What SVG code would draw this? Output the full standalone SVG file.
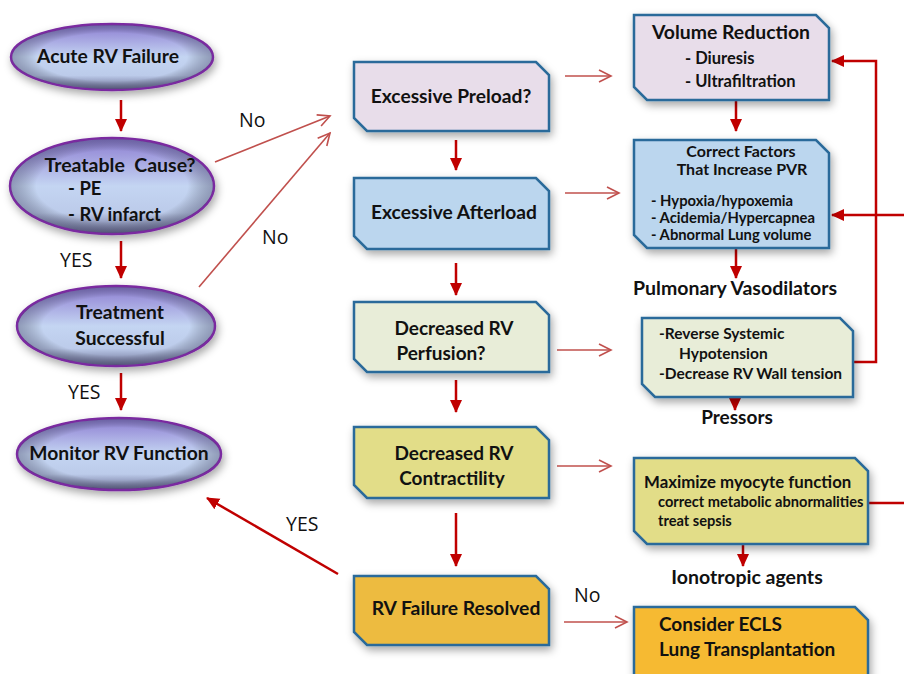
<svg xmlns="http://www.w3.org/2000/svg" width="904" height="674" viewBox="0 0 904 674">
<defs>
<linearGradient id="ellG" x1="0" y1="0" x2="0" y2="1">
<stop offset="0" stop-color="#8A7BD0"/>
<stop offset="0.25" stop-color="#A8A8E2"/>
<stop offset="0.5" stop-color="#C4D5F2"/>
<stop offset="0.78" stop-color="#BCCBEA"/>
<stop offset="1" stop-color="#66688E"/>
</linearGradient>
<radialGradient id="ellEdge" cx="0.5" cy="0.5" r="0.5">
<stop offset="0.75" stop-color="#000" stop-opacity="0"/>
<stop offset="1" stop-color="#303050" stop-opacity="0.35"/>
</radialGradient>
<filter id="sh" x="-20%" y="-20%" width="140%" height="150%">
<feDropShadow dx="2" dy="4" stdDeviation="4" flood-color="#000" flood-opacity="0.35"/>
</filter>
<marker id="thick" markerUnits="userSpaceOnUse" markerWidth="14" markerHeight="14" viewBox="0 0 14 14" refX="12" refY="7" orient="auto">
<path d="M0,1 L13,7 L0,13 Z" fill="#C00000"/>
</marker>
<marker id="thin" markerUnits="userSpaceOnUse" markerWidth="16" markerHeight="16" viewBox="0 0 16 16" refX="14" refY="8" orient="auto">
<path d="M2,2 L14,8 L2,14" fill="none" stroke="#C0504D" stroke-width="1.6"/>
</marker>
</defs>
<style>
.ell{stroke:#7A2AA0;stroke-width:2.5}
.box{stroke:#2A6A9A;stroke-width:2.5}
.t{font-family:Lato,"Open Sans","Liberation Sans",sans-serif;font-weight:bold;fill:#111}
.lab{font-family:"Open Sans","Liberation Sans",sans-serif;font-size:19.5px;fill:#111}
.th{stroke:#C00000;stroke-width:2.5;fill:none}
.tn{stroke:#C0504D;stroke-width:1.6;fill:none}
</style>

<g id="connectors">
<line class="th" x1="121" y1="100" x2="121" y2="131" marker-end="url(#thick)"/>
<line class="th" x1="121" y1="241" x2="121" y2="278" marker-end="url(#thick)"/>
<line class="th" x1="121" y1="373" x2="121" y2="410" marker-end="url(#thick)"/>
<line class="tn" x1="215" y1="162" x2="330" y2="116" marker-end="url(#thin)"/>
<line class="tn" x1="199" y1="287" x2="330" y2="133" marker-end="url(#thin)"/>
<line class="th" x1="456" y1="140" x2="456" y2="170" marker-end="url(#thick)"/>
<line class="th" x1="456" y1="263" x2="456" y2="295" marker-end="url(#thick)"/>
<line class="th" x1="456" y1="380" x2="456" y2="412" marker-end="url(#thick)"/>
<line class="th" x1="456" y1="513" x2="456" y2="566" marker-end="url(#thick)"/>
<line class="th" x1="338" y1="574" x2="207" y2="498" marker-end="url(#thick)"/>
<line class="tn" x1="565" y1="76" x2="611" y2="76" marker-end="url(#thin)"/>
<line class="tn" x1="565" y1="193" x2="619" y2="193" marker-end="url(#thin)"/>
<line class="tn" x1="557" y1="350" x2="611" y2="350" marker-end="url(#thin)"/>
<line class="tn" x1="557" y1="466" x2="611" y2="466" marker-end="url(#thin)"/>
<line class="tn" x1="564" y1="622" x2="627" y2="622" marker-end="url(#thin)"/>
<line class="th" x1="736" y1="101" x2="736" y2="131" marker-end="url(#thick)"/>
<line class="th" x1="736" y1="249" x2="736" y2="278" marker-end="url(#thick)"/>
<line class="th" x1="735" y1="389" x2="735" y2="410" marker-end="url(#thick)"/>
<line class="th" x1="743" y1="537" x2="743" y2="566" marker-end="url(#thick)"/>
<polyline class="th" points="853,362 876,362 876,61 832,61" marker-end="url(#thick)"/>
<polyline class="th" points="868,503 912,503 912,215 832,215" marker-end="url(#thick)"/>
<text class="lab" x="239" y="127">No</text>
<text class="lab" x="262" y="244">No</text>
<text class="lab" x="60" y="267">YES</text>
<text class="lab" x="68" y="399">YES</text>
<text class="lab" x="286" y="531">YES</text>
<text class="lab" x="574" y="602">No</text>
</g>

<g id="n-acute">
<ellipse cx="112" cy="57" rx="101" ry="33" fill="url(#ellG)" class="ell" filter="url(#sh)"/>
<ellipse cx="112" cy="57" rx="100" ry="32" fill="url(#ellEdge)"/>
<text class="t" x="108" y="63" font-size="19.3" text-anchor="middle">Acute RV Failure</text>
</g>
<g id="n-treatable">
<ellipse cx="112" cy="186" rx="102" ry="48" fill="url(#ellG)" class="ell" filter="url(#sh)"/>
<ellipse cx="112" cy="186" rx="101" ry="47" fill="url(#ellEdge)"/>
<text class="t" x="120" y="172" font-size="19.5" text-anchor="middle" style="white-space:pre">Treatable  Cause?</text>
<text class="t" x="68" y="195" font-size="18.5">- PE</text>
<text class="t" x="68" y="221" font-size="18.5">- RV infarct</text>
</g>
<g id="n-treatment">
<ellipse cx="116" cy="326" rx="99" ry="40" fill="url(#ellG)" class="ell" filter="url(#sh)"/>
<ellipse cx="116" cy="326" rx="98" ry="39" fill="url(#ellEdge)"/>
<text class="t" x="120" y="319" font-size="19.3" text-anchor="middle">Treatment</text>
<text class="t" x="120" y="345" font-size="19.3" text-anchor="middle">Successful</text>
</g>
<g id="n-monitor">
<ellipse cx="119" cy="454" rx="102" ry="36" fill="url(#ellG)" class="ell" filter="url(#sh)"/>
<ellipse cx="119" cy="454" rx="101" ry="35" fill="url(#ellEdge)"/>
<text class="t" x="119" y="460" font-size="19.3" text-anchor="middle">Monitor RV Function</text>
</g>

<g id="n-preload">
<path class="box" d="M354,62 H536 L549,75 V131 H367 L354,118 Z" fill="#E8DDEA" filter="url(#sh)"/>
<text class="t" x="451" y="103" font-size="19.2" text-anchor="middle">Excessive Preload?</text>
</g>
<g id="n-afterload">
<path class="box" d="M354,178 H536 L549,191 V249 H367 L354,236 Z" fill="#BBD6EE" filter="url(#sh)"/>
<text class="t" x="454" y="219" font-size="19.2" text-anchor="middle">Excessive Afterload</text>
</g>
<g id="n-perfusion">
<path class="box" d="M354,302 H536 L549,315 V372 H367 L354,359 Z" fill="#E8EDD8" filter="url(#sh)"/>
<text class="t" x="454" y="335" font-size="19" text-anchor="middle">Decreased RV</text>
<text class="t" x="441" y="360" font-size="19" text-anchor="middle">Perfusion?</text>
</g>
<g id="n-contractility">
<path class="box" d="M354,427 H536 L549,440 V498 H367 L354,485 Z" fill="#E2DD88" filter="url(#sh)"/>
<text class="t" x="454" y="460" font-size="19" text-anchor="middle">Decreased RV</text>
<text class="t" x="452" y="485" font-size="19" text-anchor="middle">Contractility</text>
</g>
<g id="n-resolved">
<path class="box" d="M354,576 H536 L549,589 V645 H367 L354,632 Z" fill="#EDBB40" filter="url(#sh)"/>
<text class="t" x="456" y="615" font-size="19.3" text-anchor="middle">RV Failure Resolved</text>
</g>

<g id="n-volume">
<path class="box" d="M634,15 H816 L829,28 V100 H647 L634,87 Z" fill="#E8DDEA" filter="url(#sh)"/>
<text class="t" x="731" y="39" font-size="19.4" text-anchor="middle">Volume Reduction</text>
<text class="t" x="685" y="64" font-size="16.5">- Diuresis</text>
<text class="t" x="685" y="87" font-size="16.5">- Ultrafiltration</text>
</g>
<g id="n-pvr">
<path class="box" d="M634,140 H816 L829,153 V248 H647 L634,235 Z" fill="#BBD6EE" filter="url(#sh)"/>
<text class="t" x="741" y="157" font-size="16" text-anchor="middle">Correct Factors</text>
<text class="t" x="742" y="175" font-size="16" text-anchor="middle">That Increase PVR</text>
<text class="t" x="651" y="206" font-size="14.8">- Hypoxia/hypoxemia</text>
<text class="t" x="651" y="223" font-size="14.8">- Acidemia/Hypercapnea</text>
<text class="t" x="651" y="240" font-size="14.8">- Abnormal Lung volume</text>
</g>
<g id="n-vasodilators">
<text class="t" x="735" y="295" font-size="19.5" text-anchor="middle">Pulmonary Vasodilators</text>
</g>
<g id="n-systemic">
<path class="box" d="M642,318 H840 L853,331 V397 H655 L642,384 Z" fill="#E8EDD8" filter="url(#sh)"/>
<text class="t" x="659" y="339" font-size="15.5">-Reverse Systemic</text>
<text class="t" x="679" y="359" font-size="15.5">Hypotension</text>
<text class="t" x="659" y="379" font-size="15.5">-Decrease RV Wall tension</text>
</g>
<g id="n-pressors">
<text class="t" x="737" y="424" font-size="19" text-anchor="middle">Pressors</text>
</g>
<g id="n-myocyte">
<path class="box" d="M634,458 H855 L868,471 V544 H647 L634,531 Z" fill="#E2DD88" filter="url(#sh)"/>
<text class="t" x="644" y="488" font-size="16.8">Maximize myocyte function</text>
<text class="t" x="658" y="507" font-size="14.6">correct metabolic abnormalities</text>
<text class="t" x="658" y="526" font-size="14.6">treat sepsis</text>
</g>
<g id="n-ionotropic">
<text class="t" x="747" y="584" font-size="19.5" text-anchor="middle">Ionotropic agents</text>
</g>
<g id="n-ecls">
<path class="box" d="M634,607 H855 L868,620 V690 H647 L634,677 Z" fill="#F6BA33" filter="url(#sh)"/>
<text class="t" x="659" y="631" font-size="19">Consider ECLS</text>
<text class="t" x="659" y="656" font-size="19">Lung Transplantation</text>
</g>
</svg>
